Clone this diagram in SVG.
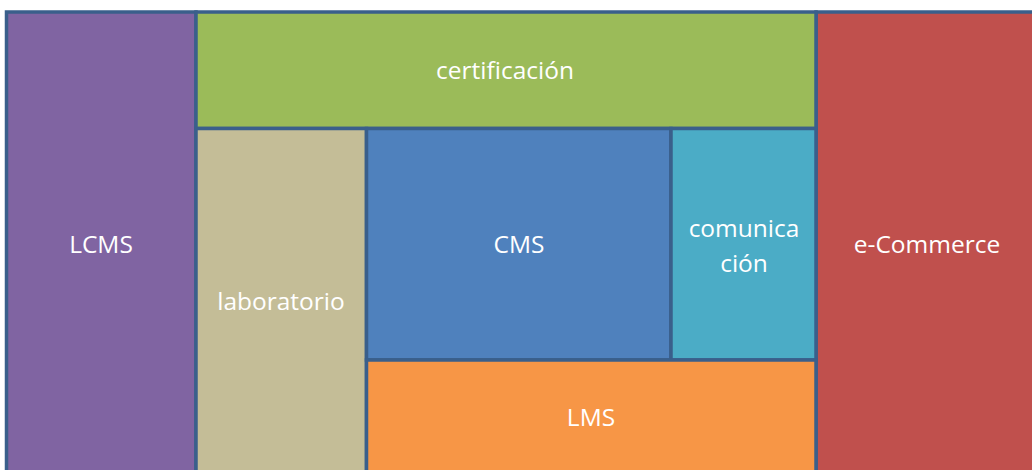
<svg xmlns="http://www.w3.org/2000/svg" width="1032" height="470" viewBox="0 0 1032 470">
<style>
rect.b{stroke:#3a5f8b;stroke-width:3.5}
text{font-family:"Open Sans","Liberation Sans",sans-serif;font-size:24.5px;fill:#ffffff;text-anchor:middle}
</style>
<rect width="1032" height="470" fill="#ffffff"/>
<g id="lcms"><rect class="b" x="6.5" y="12" width="189.5" height="470" fill="#8064a2"/><text x="101" y="253">LCMS</text></g>
<g id="ecommerce"><rect class="b" x="816" y="12" width="230" height="470" fill="#c0504d"/><text x="927" y="253">e-Commerce</text></g>
<g id="certificacion"><rect class="b" x="196" y="12" width="620" height="116.5" fill="#9bbb59"/><text x="505" y="79">certificación</text></g>
<g id="laboratorio"><rect class="b" x="196" y="128.5" width="170.5" height="360" fill="#c4bd97"/><text x="281" y="310">laboratorio</text></g>
<g id="cms"><rect class="b" x="366.5" y="128.5" width="304.5" height="231.5" fill="#4f81bd"/><text x="519" y="253">CMS</text></g>
<g id="comunicacion"><rect class="b" x="671" y="128.5" width="145" height="231.5" fill="#4bacc6"/><text x="744" y="237">comunica</text><text x="744" y="272">ción</text></g>
<g id="lms"><rect class="b" x="366.5" y="360" width="449.5" height="130" fill="#f79646"/><text x="591" y="426">LMS</text></g>
<g id="connectors"/>
</svg>
